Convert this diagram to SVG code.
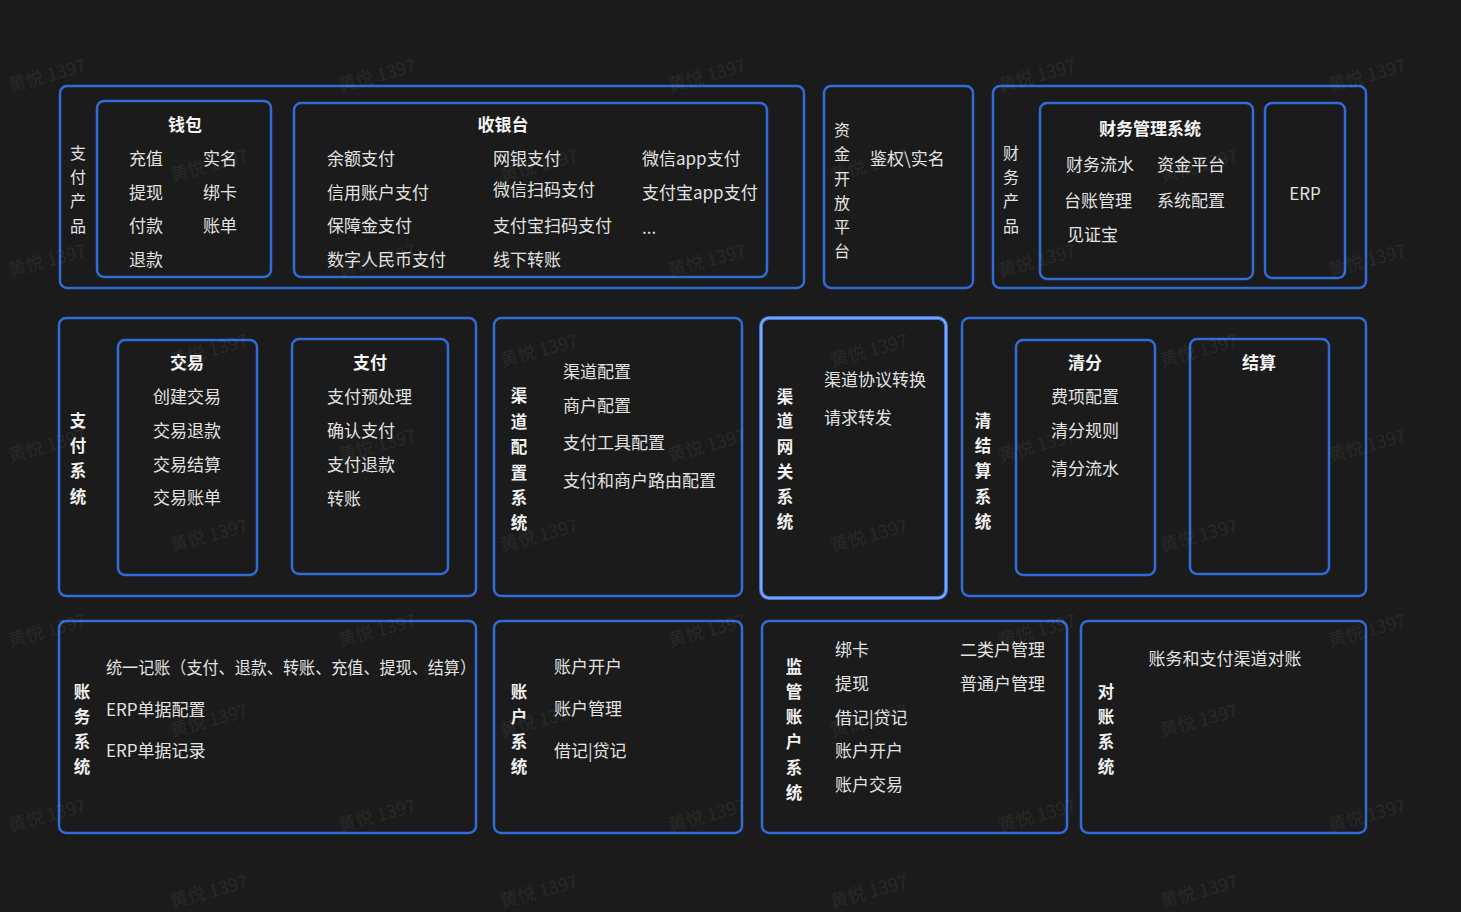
<svg xmlns="http://www.w3.org/2000/svg" width="1461" height="912" viewBox="0 0 1461 912">
<style>
text{font-family:"Noto Sans CJK SC","Noto Sans",sans-serif;fill:#e2e2e2;font-size:17px;dominant-baseline:central}
.b{fill:none;stroke:#2f6cd8;stroke-width:2.5}
.t{font-weight:bold;fill:#f4f4f4}
.v{font-size:16px}
.vb{font-size:16.5px;font-weight:bold;fill:#f0f0f0}
.c{text-anchor:middle}
.wm{fill:#ffffff;opacity:0.055;font-family:"Noto Sans CJK SC",sans-serif;font-size:18px;dominant-baseline:auto}
</style>
<rect width="1461" height="912" fill="#1b1b1b"/>

<g id="zhifuchanpin">
<rect class="b" x="60" y="86" width="744" height="202" rx="7"/>
<text class="v c" x="78" y="152">支</text><text class="v c" x="78" y="176">付</text><text class="v c" x="78" y="200">产</text><text class="v c" x="78" y="225">品</text>
</g>
<g id="qianbao">
<rect class="b" x="97" y="101" width="174" height="176" rx="7"/>
<text class="t c" x="185" y="123">钱包</text>
<text x="129" y="157">充值</text><text x="203" y="157">实名</text>
<text x="129" y="191">提现</text><text x="203" y="191">绑卡</text>
<text x="129" y="224">付款</text><text x="203" y="224">账单</text>
<text x="129" y="258">退款</text>
</g>
<g id="shouyintai">
<rect class="b" x="294" y="103" width="473" height="174" rx="7"/>
<text class="t c" x="503" y="123">收银台</text>
<text x="327" y="157">余额支付</text><text x="327" y="191">信用账户支付</text><text x="327" y="224">保障金支付</text><text x="327" y="258">数字人民币支付</text>
<text x="493" y="157">网银支付</text><text x="493" y="188">微信扫码支付</text><text x="493" y="224">支付宝扫码支付</text><text x="493" y="258">线下转账</text>
<text x="642" y="157">微信app支付</text><text x="642" y="191">支付宝app支付</text><text x="642" y="226">...</text>
</g>
<g id="zijinkaifang">
<rect class="b" x="824" y="86" width="149" height="202" rx="7"/>
<text class="v c" x="842" y="129">资</text><text class="v c" x="842" y="153">金</text><text class="v c" x="842" y="178">开</text><text class="v c" x="842" y="202">放</text><text class="v c" x="842" y="226">平</text><text class="v c" x="842" y="250">台</text>
<text x="870" y="157">鉴权\实名</text>
</g>
<g id="caiwuchanpin">
<rect class="b" x="993" y="86" width="373" height="202" rx="7"/>
<text class="v c" x="1011" y="152">财</text><text class="v c" x="1011" y="176">务</text><text class="v c" x="1011" y="200">产</text><text class="v c" x="1011" y="225">品</text>
</g>
<g id="caiwuguanli">
<rect class="b" x="1040" y="103" width="213" height="176" rx="7"/>
<text class="t c" x="1150" y="127">财务管理系统</text>
<text x="1066" y="163">财务流水</text><text x="1157" y="163">资金平台</text>
<text x="1064" y="199">台账管理</text><text x="1157" y="199">系统配置</text>
<text x="1067" y="233">见证宝</text>
</g>
<g id="erp">
<rect class="b" x="1265" y="103" width="80" height="175" rx="7"/>
<text class="c" x="1305" y="192">ERP</text>
</g>

<g id="zhifuxitong">
<rect class="b" x="59" y="318" width="417" height="278" rx="7"/>
<text class="vb c" x="78" y="420">支</text><text class="vb c" x="78" y="445">付</text><text class="vb c" x="78" y="470">系</text><text class="vb c" x="78" y="496">统</text>
</g>
<g id="jiaoyi">
<rect class="b" x="118" y="340" width="139" height="235" rx="7"/>
<text class="t c" x="187" y="361">交易</text>
<text class="c" x="187" y="395">创建交易</text><text class="c" x="187" y="429">交易退款</text><text class="c" x="187" y="463">交易结算</text><text class="c" x="187" y="496">交易账单</text>
</g>
<g id="zhifu">
<rect class="b" x="292" y="339" width="156" height="235" rx="7"/>
<text class="t c" x="370" y="361">支付</text>
<text x="327" y="395">支付预处理</text><text x="327" y="429">确认支付</text><text x="327" y="463">支付退款</text><text x="327" y="497">转账</text>
</g>
<g id="qudaopeizhi">
<rect class="b" x="494" y="318" width="248" height="278" rx="7"/>
<text class="vb c" x="519" y="395">渠</text><text class="vb c" x="519" y="421">道</text><text class="vb c" x="519" y="446">配</text><text class="vb c" x="519" y="472">置</text><text class="vb c" x="519" y="497">系</text><text class="vb c" x="519" y="522">统</text>
<text x="563" y="370">渠道配置</text><text x="563" y="404">商户配置</text><text x="563" y="441">支付工具配置</text><text x="563" y="479">支付和商户路由配置</text>
</g>
<g id="qudaowangguan">
<rect x="761" y="318" width="185" height="280" rx="8" fill="none" stroke="#3c72d8" stroke-width="4"/>
<rect x="761" y="318" width="185" height="280" rx="8" fill="none" stroke="#8cb4f2" stroke-width="1.6"/>
<text class="vb c" x="785" y="396">渠</text><text class="vb c" x="785" y="420">道</text><text class="vb c" x="785" y="446">网</text><text class="vb c" x="785" y="471">关</text><text class="vb c" x="785" y="496">系</text><text class="vb c" x="785" y="521">统</text>
<text x="824" y="378">渠道协议转换</text><text x="824" y="416">请求转发</text>
</g>
<g id="qingjiesuan">
<rect class="b" x="962" y="318" width="404" height="278" rx="7"/>
<text class="vb c" x="983" y="420">清</text><text class="vb c" x="983" y="445">结</text><text class="vb c" x="983" y="470">算</text><text class="vb c" x="983" y="496">系</text><text class="vb c" x="983" y="521">统</text>
</g>
<g id="qingfen">
<rect class="b" x="1016" y="340" width="139" height="235" rx="7"/>
<text class="t c" x="1085" y="361">清分</text>
<text class="c" x="1085" y="395">费项配置</text><text class="c" x="1085" y="429">清分规则</text><text class="c" x="1085" y="467">清分流水</text>
</g>
<g id="jiesuan">
<rect class="b" x="1190" y="339" width="139" height="235" rx="7"/>
<text class="t c" x="1259" y="361">结算</text>
</g>

<g id="zhangwu">
<rect class="b" x="59" y="621" width="417" height="212" rx="7"/>
<text class="vb c" x="82" y="691">账</text><text class="vb c" x="82" y="716">务</text><text class="vb c" x="82" y="741">系</text><text class="vb c" x="82" y="766">统</text>
<text x="106" y="666" textLength="370" lengthAdjust="spacingAndGlyphs">统一记账（支付、退款、转账、充值、提现、结算）</text>
<text x="106" y="708">ERP单据配置</text><text x="106" y="749">ERP单据记录</text>
</g>
<g id="zhanghu">
<rect class="b" x="494" y="621" width="248" height="212" rx="7"/>
<text class="vb c" x="519" y="691">账</text><text class="vb c" x="519" y="716">户</text><text class="vb c" x="519" y="741">系</text><text class="vb c" x="519" y="766">统</text>
<text x="554" y="665">账户开户</text><text x="554" y="707">账户管理</text><text x="554" y="749">借记|贷记</text>
</g>
<g id="jianguan">
<rect class="b" x="762" y="621" width="305" height="212" rx="7"/>
<text class="vb c" x="794" y="666">监</text><text class="vb c" x="794" y="691">管</text><text class="vb c" x="794" y="716">账</text><text class="vb c" x="794" y="741">户</text><text class="vb c" x="794" y="767">系</text><text class="vb c" x="794" y="792">统</text>
<text x="835" y="648">绑卡</text><text x="835" y="682">提现</text><text x="835" y="716">借记|贷记</text><text x="835" y="749">账户开户</text><text x="835" y="783">账户交易</text>
<text x="960" y="648">二类户管理</text><text x="960" y="682">普通户管理</text>
</g>
<g id="duizhang">
<rect class="b" x="1081" y="621" width="285" height="212" rx="7"/>
<text class="vb c" x="1106" y="691">对</text><text class="vb c" x="1106" y="716">账</text><text class="vb c" x="1106" y="741">系</text><text class="vb c" x="1106" y="766">统</text>
<text class="c" x="1225" y="657">账务和支付渠道对账</text>
</g>

<g id="connectors"></g>

<g id="watermarks">
<text class="wm" x="10" y="92" transform="rotate(-15 10 92)">黄悦 1397</text>
<text class="wm" x="340" y="92" transform="rotate(-15 340 92)">黄悦 1397</text>
<text class="wm" x="670" y="92" transform="rotate(-15 670 92)">黄悦 1397</text>
<text class="wm" x="1000" y="92" transform="rotate(-15 1000 92)">黄悦 1397</text>
<text class="wm" x="1330" y="92" transform="rotate(-15 1330 92)">黄悦 1397</text>
<text class="wm" x="10" y="277" transform="rotate(-15 10 277)">黄悦 1397</text>
<text class="wm" x="340" y="277" transform="rotate(-15 340 277)">黄悦 1397</text>
<text class="wm" x="670" y="277" transform="rotate(-15 670 277)">黄悦 1397</text>
<text class="wm" x="1000" y="277" transform="rotate(-15 1000 277)">黄悦 1397</text>
<text class="wm" x="1330" y="277" transform="rotate(-15 1330 277)">黄悦 1397</text>
<text class="wm" x="10" y="462" transform="rotate(-15 10 462)">黄悦 1397</text>
<text class="wm" x="340" y="462" transform="rotate(-15 340 462)">黄悦 1397</text>
<text class="wm" x="670" y="462" transform="rotate(-15 670 462)">黄悦 1397</text>
<text class="wm" x="1000" y="462" transform="rotate(-15 1000 462)">黄悦 1397</text>
<text class="wm" x="1330" y="462" transform="rotate(-15 1330 462)">黄悦 1397</text>
<text class="wm" x="10" y="647" transform="rotate(-15 10 647)">黄悦 1397</text>
<text class="wm" x="340" y="647" transform="rotate(-15 340 647)">黄悦 1397</text>
<text class="wm" x="670" y="647" transform="rotate(-15 670 647)">黄悦 1397</text>
<text class="wm" x="1000" y="647" transform="rotate(-15 1000 647)">黄悦 1397</text>
<text class="wm" x="1330" y="647" transform="rotate(-15 1330 647)">黄悦 1397</text>
<text class="wm" x="10" y="832" transform="rotate(-15 10 832)">黄悦 1397</text>
<text class="wm" x="340" y="832" transform="rotate(-15 340 832)">黄悦 1397</text>
<text class="wm" x="670" y="832" transform="rotate(-15 670 832)">黄悦 1397</text>
<text class="wm" x="1000" y="832" transform="rotate(-15 1000 832)">黄悦 1397</text>
<text class="wm" x="1330" y="832" transform="rotate(-15 1330 832)">黄悦 1397</text>
<text class="wm" x="172" y="182" transform="rotate(-15 172 182)">黄悦 1397</text>
<text class="wm" x="502" y="182" transform="rotate(-15 502 182)">黄悦 1397</text>
<text class="wm" x="832" y="182" transform="rotate(-15 832 182)">黄悦 1397</text>
<text class="wm" x="1162" y="182" transform="rotate(-15 1162 182)">黄悦 1397</text>
<text class="wm" x="172" y="367" transform="rotate(-15 172 367)">黄悦 1397</text>
<text class="wm" x="502" y="367" transform="rotate(-15 502 367)">黄悦 1397</text>
<text class="wm" x="832" y="367" transform="rotate(-15 832 367)">黄悦 1397</text>
<text class="wm" x="1162" y="367" transform="rotate(-15 1162 367)">黄悦 1397</text>
<text class="wm" x="172" y="552" transform="rotate(-15 172 552)">黄悦 1397</text>
<text class="wm" x="502" y="552" transform="rotate(-15 502 552)">黄悦 1397</text>
<text class="wm" x="832" y="552" transform="rotate(-15 832 552)">黄悦 1397</text>
<text class="wm" x="1162" y="552" transform="rotate(-15 1162 552)">黄悦 1397</text>
<text class="wm" x="172" y="737" transform="rotate(-15 172 737)">黄悦 1397</text>
<text class="wm" x="502" y="737" transform="rotate(-15 502 737)">黄悦 1397</text>
<text class="wm" x="832" y="737" transform="rotate(-15 832 737)">黄悦 1397</text>
<text class="wm" x="1162" y="737" transform="rotate(-15 1162 737)">黄悦 1397</text>
<text class="wm" x="172" y="908" transform="rotate(-15 172 908)">黄悦 1397</text>
<text class="wm" x="502" y="908" transform="rotate(-15 502 908)">黄悦 1397</text>
<text class="wm" x="832" y="908" transform="rotate(-15 832 908)">黄悦 1397</text>
<text class="wm" x="1162" y="908" transform="rotate(-15 1162 908)">黄悦 1397</text>
</g>
</svg>
